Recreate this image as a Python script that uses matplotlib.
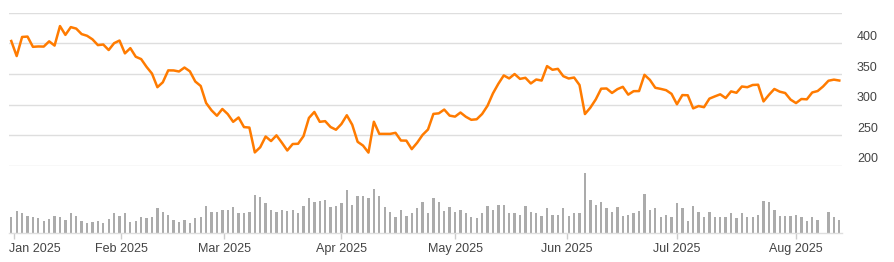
import numpy as np
import pandas as pd
import matplotlib
matplotlib.use("Agg")
import matplotlib.pyplot as plt
from matplotlib.transforms import blended_transform_factory, offset_copy

# daily closes, 31 Dec 2024 -> 13 Aug 2025 (one value per trading day)
close = [
    403.84,
    379.28, 410.44, 411.05, 394.36, 394.94, 394.74, 403.31, 396.36, 428.22, 413.82,
    426.50, 424.07, 415.11, 412.38, 406.58, 397.15, 398.09, 389.10, 400.28, 404.60,
    383.68, 392.21, 378.17, 374.32, 361.62, 350.73, 328.50, 336.51, 355.94, 355.84,
    354.11, 360.56, 354.40, 337.80, 330.53, 302.80, 290.80, 281.95, 292.98,
    284.65, 272.04, 279.10, 263.45, 262.67, 222.15, 230.58, 248.09, 240.68, 249.98,
    238.01, 225.31, 235.86, 236.26, 248.71, 278.39, 288.14, 272.06, 273.13, 263.55, 259.16,
    268.46, 282.76, 267.28, 239.43, 233.29, 221.86, 272.20, 252.40, 252.31, 252.35,
    254.11, 241.55, 241.37, 227.50, 237.97, 250.74, 259.51, 284.95, 285.88, 292.03, 282.16,
    280.52, 287.21, 280.26, 275.35, 276.22, 284.82, 298.26, 318.38, 334.07, 347.68,
    342.82, 349.98, 342.09, 343.82, 334.62, 341.04, 339.34, 362.89, 356.90, 358.43, 346.46,
    342.69, 344.27, 332.05, 284.70, 295.14, 308.58, 326.09, 326.43, 319.11, 325.31,
    329.13, 316.35, 322.05, 322.16, 348.68, 340.47, 327.55, 325.78, 323.63, 317.66,
    300.71, 315.65, 315.35, 293.94, 297.81, 295.88, 309.87, 313.51, 316.90, 310.78,
    321.67, 319.41, 329.65, 328.49, 332.11, 332.56, 305.30, 316.06, 325.59, 321.20, 319.04, 308.27,
    302.63, 309.26, 308.72, 319.91, 322.27, 329.65, 339.03, 340.84, 339.38,
]

# volume in millions of shares (one day has no bar)
volume = [
    76,
    105, 93, 80, 76, 69, 58, 64, 80, 76, 63, 93, 80, 58, 45, 52, 58, 45, 64, 93, 80,
    93, 52, 58, 76, 69, 76, 117, 100, 87, 63, 52, 63, 45, 69, 76, 129, 100, 100, 111,
    111, 124, 93, 93, 100, 183, 172, 141, 111, 100, 111, 105, 111, 93, 129, 165, 148, 153, 159, 124, 129,
    141, 207, 135, 177, 177, 165, 212, 177, 124, 100, 76, 111, 80, 93, 117, 148, 93, 165, 148, 105, 124,
    100, 111, 93, 76, 69, 93, 129, 111, 135, 135, 93, 93, 87, 129, 100, 93, 80, 117, 87, 87, 117,
    80, 93, 93, 288, 159, 135, 148, 117, 100, 124, 80, 87, 93, 105, 189, 111, 117, 76, 87, 76,
    141, 117, 58, 129, 100, 76, 100, 76, 76, 76, 93, 69, 93, 76, 76, 87, 153, 148, 111, 80, 80, 80,
    87, 76, 58, 76, 63, np.nan, 100, 76, 63,
]

holidays = ["2025-01-01", "2025-01-09", "2025-01-20", "2025-02-17",
            "2025-04-18", "2025-05-26", "2025-06-19", "2025-07-04"]
price_ticks = [200, 250, 300, 350, 400, 450]
price_labels = ["200", "250", "300", "350", "400", ""]
month_labels = ["Jan 2025", "Feb 2025", "Mar 2025", "Apr 2025",
                "May 2025", "Jun 2025", "Jul 2025", "Aug 2025"]

days = pd.bdate_range("2024-12-31", "2025-08-13")
days = days[~days.isin(pd.to_datetime(holidays))]
idx = np.arange(len(days))

# month ticks sit at the calendar 1st, interpolated between trading days
month_starts = pd.date_range("2025-01-01", "2025-08-01", freq="MS")
day_num = np.asarray((days - days[0]).days, dtype=float)
month_num = np.asarray((month_starts - days[0]).days, dtype=float)
tick_pos = np.interp(month_num, day_num, idx)

font = ["Liberation Sans", "DejaVu Sans"]
text_col = "#444444"
grid_col = "#dedede"

W, H = 894, 262
fig = plt.figure(figsize=(W / 100, H / 100), dpi=100)
ax = fig.add_axes([9 / W, 1 - 166 / H, 833 / W, 153.3 / H])
vax = fig.add_axes([9 / W, 1 - 232.7 / H, 833 / W, 64.7 / H])
xlim = (-0.42, len(idx) - 0.5)

# price panel
ax.plot(idx, close, color="#ff7b00", lw=1.8, zorder=3)
ax.set_xlim(*xlim)
ax.set_ylim(200, 450)
ax.set_yticks(price_ticks)
ax.set_xticks([])
ax.grid(axis="y", color=grid_col, lw=1.0)
ax.tick_params(length=0, labelleft=False, labelbottom=False)
for s in ax.spines.values():
    s.set_visible(False)

trans = offset_copy(blended_transform_factory(ax.transAxes, ax.transData),
                    fig=fig, x=0, y=6.5, units="dots")
for val, lab in zip(price_ticks, price_labels):
    ax.text(1 + 15 / 833, val, lab, transform=trans, ha="left", va="center",
            fontsize=9, color=text_col, family=font)

# volume panel
vax.bar(idx, volume, width=0.43, color="#ababab", zorder=1)
vax.set_xlim(*xlim)
vax.set_ylim(0, 312)
vax.set_yticks([])
vax.set_xticks(tick_pos)
vax.set_xticklabels([])
vax.tick_params(axis="x", length=4.5, width=1, color="#cccccc")
for name, s in vax.spines.items():
    s.set_visible(name == "bottom")
vax.spines["bottom"].set_color(grid_col)
vax.spines["bottom"].set_linewidth(1.0)

lab_trans = offset_copy(blended_transform_factory(vax.transData, vax.transAxes),
                        fig=fig, x=0, y=-16.3, units="dots")
for i, (pos, lab) in enumerate(zip(tick_pos, month_labels)):
    if i == 0:
        # first label is pushed right so it stays inside the plot
        vax.text(xlim[0], 0, lab, transform=lab_trans, ha="left", va="center",
                 fontsize=9, color=text_col, family=font)
    else:
        vax.text(pos, 0, lab, transform=lab_trans, ha="center", va="center",
                 fontsize=9, color=text_col, family=font)

fig.savefig("out.png", dpi=100)
